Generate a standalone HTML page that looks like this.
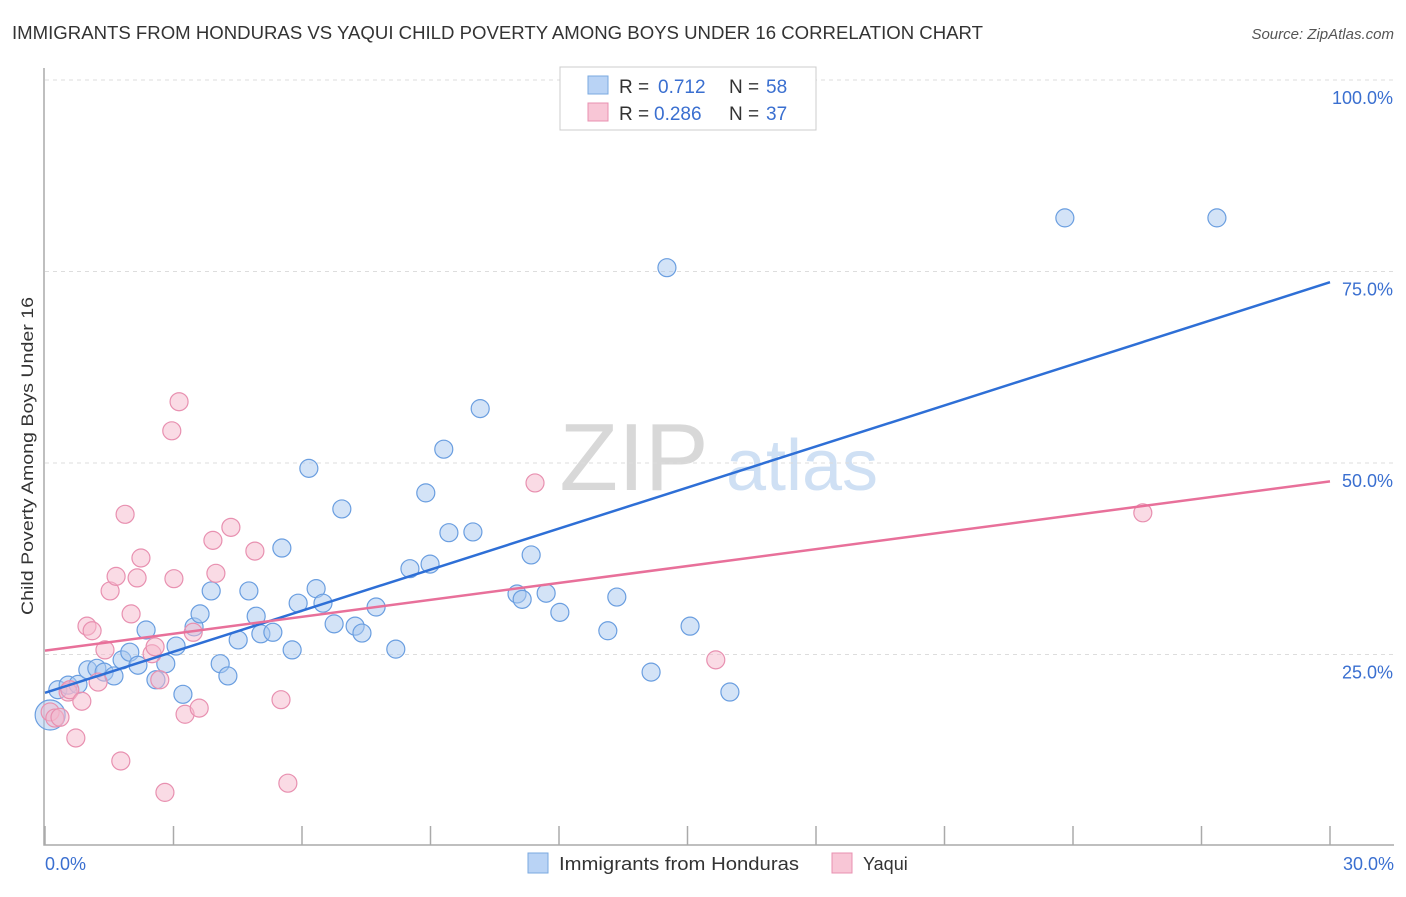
<!DOCTYPE html>
<html><head><meta charset="utf-8"><style>
body{margin:0;background:#fff;font-family:"Liberation Sans",sans-serif}
svg text{font-family:"Liberation Sans",sans-serif}
</style></head><body>
<svg id="chart" width="1406" height="892" xmlns="http://www.w3.org/2000/svg">
<text x="12" y="39" font-size="18" fill="#333" textLength="971" lengthAdjust="spacingAndGlyphs">IMMIGRANTS FROM HONDURAS VS YAQUI CHILD POVERTY AMONG BOYS UNDER 16 CORRELATION CHART</text>
<text x="1394" y="39" font-size="15" fill="#555" text-anchor="end" font-style="italic">Source: ZipAtlas.com</text>
<text transform="translate(33,456) rotate(-90)" font-size="17" fill="#333" text-anchor="middle" textLength="318" lengthAdjust="spacingAndGlyphs">Child Poverty Among Boys Under 16</text>
<g>
<text x="634" y="490" font-size="96" fill="#d8d8d8" text-anchor="middle" font-family="Liberation Serif, serif">ZIP</text>
<text x="802" y="490" font-size="72" fill="#cfe0f4" text-anchor="middle">atlas</text>
</g>
<g id="grid"></g><g id="axes"></g><g id="pts"></g><g id="lines"></g>
<g>
<rect x="560" y="67" width="256" height="63" fill="#fff" stroke="#ccc"/>
<rect x="588" y="76" width="20" height="18" fill="#b9d3f5" stroke="#7aaae0"/>
<rect x="588" y="103" width="20" height="18" fill="#f8c6d6" stroke="#e890b0"/>
<text x="619" y="93" font-size="19" fill="#333">R =</text>
<text x="658" y="93" font-size="19" fill="#3a6fd0">0.712</text>
<text x="729" y="93" font-size="19" fill="#333">N =</text>
<text x="766" y="93" font-size="19" fill="#3a6fd0">58</text>
<text x="619" y="120" font-size="19" fill="#333">R =</text>
<text x="654" y="120" font-size="19" fill="#3a6fd0">0.286</text>
<text x="729" y="120" font-size="19" fill="#333">N =</text>
<text x="766" y="120" font-size="19" fill="#3a6fd0">37</text>
</g>
<g>
<rect x="528" y="853" width="20" height="20" fill="#b9d3f5" stroke="#7aaae0"/>
<text x="559" y="870" font-size="18" fill="#333" textLength="240" lengthAdjust="spacingAndGlyphs">Immigrants from Honduras</text>
<rect x="832" y="853" width="20" height="20" fill="#f8c6d6" stroke="#e890b0"/>
<text x="863" y="870" font-size="18" fill="#333">Yaqui</text>
</g>
</svg>
<script>
const blueX=[0.12,0.30,0.54,0.77,1.00,1.21,1.38,1.61,1.80,1.98,2.17,2.36,2.59,2.82,3.06,3.22,3.48,3.62,3.88,4.09,4.27,4.51,4.76,4.93,5.04,5.32,5.53,5.77,5.91,6.16,6.33,6.49,6.75,6.93,7.24,7.40,7.73,8.19,8.52,8.99,8.89,9.31,9.43,9.99,10.16,11.02,11.14,11.35,11.70,12.02,13.14,13.35,14.15,14.52,15.06,15.99,23.81,27.36];
const blueY=[17.1,20.4,21.0,21.1,23.0,23.2,22.7,22.2,24.3,25.3,23.6,28.2,21.7,23.8,26.1,19.8,28.6,30.3,33.3,23.8,22.2,26.9,33.3,30.0,27.7,27.9,38.9,25.6,31.7,49.3,33.6,31.7,29.0,44.0,28.7,27.8,31.2,25.7,36.2,36.8,46.1,51.8,40.9,41.0,57.1,32.9,32.2,38.0,33.0,30.5,28.1,32.5,22.7,75.5,28.7,20.1,82.0,82.0];
const pinkX=[0.12,0.23,0.35,0.54,0.58,0.72,0.86,0.98,1.10,1.24,1.40,1.52,1.66,1.77,1.87,2.01,2.15,2.24,2.50,2.57,2.68,2.80,2.96,3.01,3.13,3.27,3.46,3.60,3.92,3.99,4.34,4.90,5.51,5.67,11.44,15.66,25.63];
const pinkY=[17.5,16.7,16.8,20.1,20.4,14.1,18.9,28.7,28.1,21.4,25.6,33.3,35.2,11.1,43.3,30.3,35.0,37.6,25.1,26.0,21.7,7.0,54.2,34.9,58.0,17.2,27.9,18.0,39.9,35.6,41.6,38.5,19.1,8.2,47.4,24.3,43.5];
const blueTrend=[20.0,73.6];
const pinkTrend=[25.5,47.6];
const yTicks=[25,50,75,100];
const yTickLabels=["25.0%","50.0%","75.0%","100.0%"];
const xTickVals=[0,3,6,9,12,15,18,21,24,27,30];
const xEndLabels=["0.0%","30.0%"];
const NS="http://www.w3.org/2000/svg";
const X=v=>45+v/30*1285, Y=v=>846-v*7.66;
function mk(t,a,p){const e=document.createElementNS(NS,t);for(const k in a)e.setAttribute(k,a[k]);p.appendChild(e);return e;}
const grid=document.getElementById('grid'),axes=document.getElementById('axes'),pts=document.getElementById('pts'),lines=document.getElementById('lines');
yTicks.forEach((v,i)=>{
 const l=mk('line',{x1:45,x2:1394,y1:Y(v),y2:Y(v),stroke:'#ddd','stroke-dasharray':'4,4'},grid);
 
 
 const t=mk('text',{x:1393,y:Y(v)+24,'font-size':18,fill:'#3a6fd0','text-anchor':'end'},grid);
 t.textContent=yTickLabels[i];
 
 
});
const ax=mk('path',{d:`M44,68 V845 H1394`,stroke:'#aaa',fill:'none','stroke-width':1.5},axes);


xTickVals.forEach(v=>{
 const l=mk('line',{x1:X(v),x2:X(v),y1:826,y2:845,stroke:'#aaa','stroke-width':1.5},axes);
 
 
});
[[0,'start',45],[30,'end',1394]].forEach((d,i)=>{
 const t=mk('text',{x:d[2],y:870,'font-size':18,fill:'#3a6fd0','text-anchor':d[1]},axes);
 t.textContent=xEndLabels[i];
 
 
});
function series(xs,ys,fill,stroke,name){
 xs.forEach((x,i)=>{
  const c=mk('circle',{cx:X(x),cy:Y(ys[i]),r:(i===0&&name==='blue-point')?15:9,fill:fill,'fill-opacity':0.5,stroke:stroke,'stroke-width':1.2},pts);
  
  
 });
}
series(blueX,blueY,'#a8c8f0','#6a9ee0','blue-point');
series(pinkX,pinkY,'#f5b8cc','#e890b0','pink-point');
const bl=mk('line',{x1:X(0),y1:Y(blueTrend[0]),x2:X(30),y2:Y(blueTrend[1]),stroke:'#2e6fd6','stroke-width':2.5},lines);


const pl=mk('line',{x1:X(0),y1:Y(pinkTrend[0]),x2:X(30),y2:Y(pinkTrend[1]),stroke:'#e8709a','stroke-width':2.5},lines);


</script>
</body></html>
